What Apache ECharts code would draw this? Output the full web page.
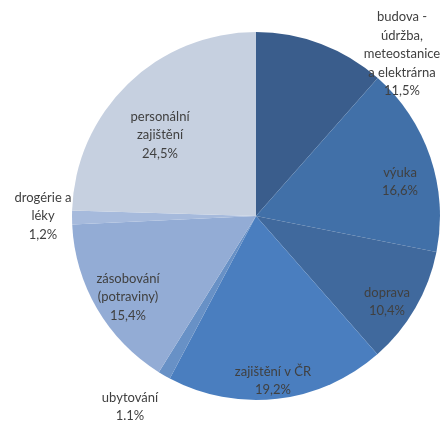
<!DOCTYPE html>
<html lang="cs">
<head>
    <meta charset="UTF-8">
    <title>Struktura nákladů</title>
    <script src="https://cdn.jsdelivr.net/npm/echarts@6/dist/echarts.min.js"></script>
    <style>
        html, body { margin: 0; padding: 0; background: #fff; }
        #main { width: 446px; height: 421px; }
    </style>
</head>
<body>
    <div id="main"></div>
    <script>
        // data (clockwise from 12 o'clock)
        var categories = [
            'budova -\núdržba,\nmeteostanice\na elektrárna',
            'výuka',
            'doprava',
            'zajištění v ČR',
            'ubytování',
            'zásobování\n(potraviny)',
            'drogérie a\nléky',
            'personální\nzajištění'
        ];
        var values = [11.5, 16.6, 10.4, 19.2, 1.1, 15.4, 1.2, 24.5];
        var percentLabels = ['11,5%', '16,6%', '10,4%', '19,2%', '1.1%', '15,4%', '1,2%', '24,5%'];

        var colors = ['#3a5d8c', '#4170a8', '#40699d', '#4a7ebf', '#6891c6', '#93acd5', '#a6badc', '#c6d0e0'];
        // label centres (layout only)
        var labelPos = [[402, 54], [400, 182], [387, 302], [273, 381], [130, 407], [128, 297], [43, 216], [160, 135]];

        var myChart = echarts.init(document.getElementById('main'));

        var option = {
            animation: false,
            series: [{
                type: 'pie',
                center: [256, 216],
                radius: 184,
                startAngle: 90,
                clockwise: true,
                data: categories.map(function (name, i) {
                    return { name: name, value: values[i], itemStyle: { color: colors[i] } };
                }),
                label: {
                    show: true,
                    position: 'inside',
                    formatter: function (p) {
                        return p.name + '\n' + percentLabels[p.dataIndex];
                    },
                    color: '#404040',
                    fontFamily: 'Lato',
                    fontSize: 13,
                    lineHeight: 18.5,
                    align: 'center'
                },
                labelLine: { show: false },
                labelLayout: function (params) {
                    var pos = labelPos[params.dataIndex];
                    return { x: pos[0], y: pos[1], align: 'center', verticalAlign: 'middle' };
                },
                emphasis: { disabled: true }
            }]
        };
        myChart.setOption(option);
    </script>
</body>
</html>
